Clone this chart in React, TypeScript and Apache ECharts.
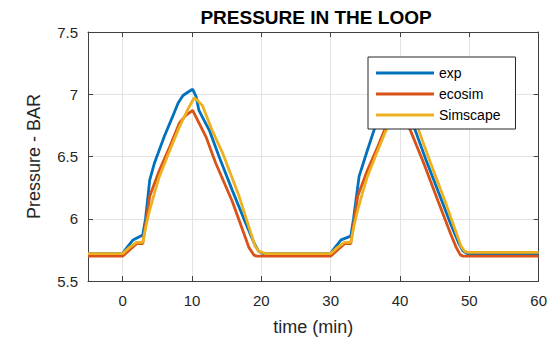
import React, { useEffect, useRef } from "react";
import * as echarts from "echarts";

const titleText = "PRESSURE IN THE LOOP";
const xName = "time (min)";
const yName = "Pressure - BAR";
const seriesNames = ["exp", "ecosim", "Simscape"];
const seriesColors = ["#0072BD", "#D95319", "#EDB120"];
const xTicks = [0, 10, 20, 30, 40, 50, 60];

const expData: [number, number][] = [
  [-5, 5.72], [0, 5.72], [0.5, 5.76], [1.5, 5.83], [2.9, 5.87], [3.3, 6.0], [3.9, 6.31],
  [4.6, 6.45], [6.0, 6.66], [7.2, 6.82], [8.0, 6.93], [8.7, 6.99], [9.5, 7.02], [10.1, 7.04],
  [10.6, 6.98], [11.0, 6.87], [12.5, 6.71], [13.9, 6.5], [15.8, 6.23], [17.7, 5.97],
  [19.0, 5.8], [19.6, 5.74], [20.2, 5.72], [30, 5.72], [30.5, 5.76], [31.5, 5.83],
  [32.9, 5.86], [33.3, 6.0], [34.1, 6.34], [35.3, 6.55], [36.3, 6.72], [37.5, 6.85],
  [38.5, 6.96], [39.5, 7.01], [40.1, 7.03], [40.5, 6.97], [41.0, 6.86], [42.2, 6.71],
  [43.7, 6.48], [45.5, 6.22], [47.3, 5.96], [48.5, 5.8], [49.1, 5.74], [49.7, 5.72], [60, 5.72],
];

const ecosimData: [number, number][] = [
  [-5, 5.7], [0, 5.7], [1, 5.75], [2, 5.8], [2.9, 5.8], [3.3, 5.95], [3.9, 6.18], [5.3, 6.39],
  [6.8, 6.58], [8.2, 6.77], [9.1, 6.83], [10.1, 6.87], [11.0, 6.77], [12.0, 6.66], [13.4, 6.45],
  [15.8, 6.14], [17.5, 5.88], [18.2, 5.77], [18.9, 5.71], [19.3, 5.7], [30, 5.7], [31, 5.75],
  [32, 5.8], [32.9, 5.8], [33.3, 5.95], [33.9, 6.18], [35.3, 6.39], [36.8, 6.58], [38.2, 6.77],
  [39.1, 6.83], [40.1, 6.87], [40.8, 6.77], [41.5, 6.71], [43.4, 6.45], [45.5, 6.14],
  [47.3, 5.88], [48.1, 5.77], [48.7, 5.71], [49.1, 5.7], [60, 5.7],
];

const simscapeData: [number, number][] = [
  [-5, 5.72], [0, 5.72], [1, 5.77], [2, 5.81], [2.9, 5.81], [3.4, 5.95], [3.9, 6.07],
  [4.6, 6.21], [5.3, 6.34], [6.8, 6.55], [8.2, 6.74], [9.6, 6.9], [10.3, 6.97], [10.8, 6.95],
  [11.5, 6.91], [12.9, 6.71], [14.4, 6.53], [16.8, 6.18], [19.1, 5.78], [19.6, 5.74],
  [20.1, 5.73], [20.6, 5.72], [30, 5.72], [31, 5.77], [32, 5.81], [32.9, 5.81], [33.4, 5.95],
  [33.9, 6.07], [34.6, 6.21], [35.3, 6.34], [36.8, 6.55], [38.2, 6.74], [39.6, 6.9],
  [40.3, 6.97], [40.8, 6.95], [41.5, 6.89], [42.7, 6.71], [44.4, 6.45], [46.5, 6.14],
  [48.8, 5.78], [49.3, 5.74], [49.8, 5.73], [50.3, 5.73], [60, 5.73],
];

const allData = [expData, ecosimData, simscapeData];

const FONT = "'Liberation Sans', Arial, Helvetica, sans-serif";
const AXIS_COLOR = "#404040";
const TEXT_COLOR = "#262626";

export default function App() {
  const ref = useRef<HTMLDivElement>(null);
  useEffect(() => {
    if (!ref.current) return;
    const chart = echarts.init(ref.current, undefined, { renderer: "svg" });
    const axisLine = { show: true, onZero: false, lineStyle: { color: AXIS_COLOR, width: 1 } };
    const tick = { show: true, inside: true, length: 5, lineStyle: { color: AXIS_COLOR } };
    chart.setOption({
      animation: false,
      backgroundColor: "#ffffff",
      textStyle: { fontFamily: FONT },
      title: {
        text: titleText,
        left: 311,
        textAlign: "center",
        top: 3,
        textStyle: { fontFamily: FONT, fontSize: 19, fontWeight: "bold", color: "#000000" },
      },
      legend: {
        orient: "vertical",
        left: 368,
        top: 57,
        z: 20,
        padding: [9, 15, 7, 8],
        itemGap: 7,
        itemWidth: 58,
        itemHeight: 3,
        icon: "rect",
        backgroundColor: "#ffffff",
        borderColor: "#262626",
        borderWidth: 1,
        textStyle: { fontFamily: FONT, fontSize: 14, color: "#000000" },
        data: seriesNames,
      },
      grid: { left: 88, right: 8, top: 32, bottom: 60, containLabel: false },
      xAxis: [
        {
          type: "value",
          min: -5,
          max: 60,
          name: xName,
          nameLocation: "middle",
          nameGap: 37,
          nameTextStyle: { fontFamily: FONT, fontSize: 18, color: TEXT_COLOR },
          axisLine,
          axisTick: { ...tick, customValues: xTicks },
          axisLabel: { customValues: xTicks, margin: 12, fontFamily: FONT, fontSize: 15, color: TEXT_COLOR },
          splitLine: { show: true, lineStyle: { color: "#e3e3e3", width: 1 } },
        },
        {
          type: "value",
          position: "top",
          min: -5,
          max: 60,
          axisLine,
          axisTick: { ...tick, customValues: xTicks },
          axisLabel: { show: false, customValues: xTicks },
          splitLine: { show: false },
        },
      ],
      yAxis: [
        {
          type: "value",
          min: 5.5,
          max: 7.5,
          interval: 0.5,
          name: yName,
          nameLocation: "middle",
          nameGap: 45,
          nameTextStyle: { fontFamily: FONT, fontSize: 18, color: TEXT_COLOR },
          axisLine,
          axisTick: tick,
          axisLabel: { margin: 10, fontFamily: FONT, fontSize: 15, color: TEXT_COLOR },
          splitLine: { show: true, lineStyle: { color: "#e3e3e3", width: 1 } },
        },
        {
          type: "value",
          position: "right",
          min: 5.5,
          max: 7.5,
          interval: 0.5,
          axisLine,
          axisTick: tick,
          axisLabel: { show: false },
          splitLine: { show: false },
        },
      ],
      series: seriesNames.map((name, i) => ({
        name,
        type: "line",
        xAxisIndex: 0,
        yAxisIndex: 0,
        data: allData[i],
        showSymbol: false,
        symbol: "none",
        lineStyle: { color: seriesColors[i], width: 2.8 },
        itemStyle: { color: seriesColors[i] },
        z: 2,
      })),
    });
    return () => chart.dispose();
  }, []);
  return <div ref={ref} style={{ width: 550, height: 341, position: "absolute", left: 0, top: 0 }} />;
}
